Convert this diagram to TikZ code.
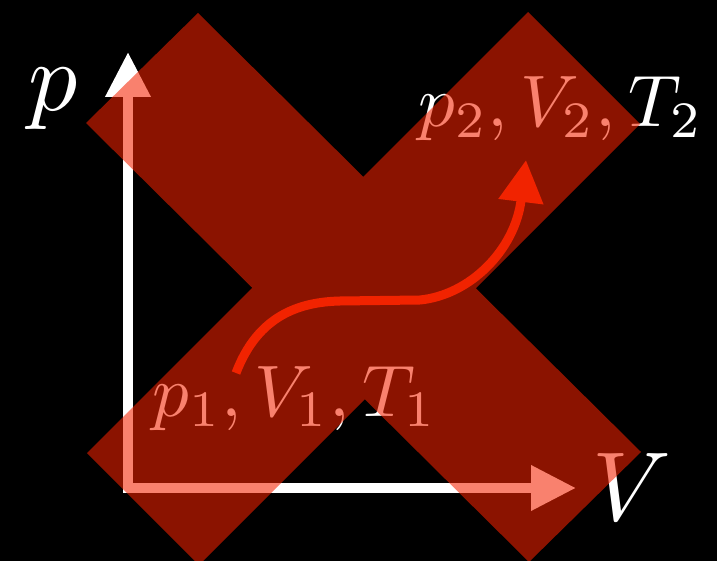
\documentclass[tikz,border=0pt]{standalone}
\usepackage{amsmath}
\usepackage{xcolor}
\definecolor{curvered}{RGB}{238,35,0}
\definecolor{crossred}{RGB}{245,35,0}
\usetikzlibrary{arrows.meta}

\begin{document}
\begin{tikzpicture}[x=1pt,y=1pt,
  axis/.style={white, line width=10pt, line join=miter},
  biglabel/.style={white, inner sep=0pt, anchor=base, scale=9.8},
  statelabel/.style={white, inner sep=0pt, anchor=base, scale=7.3}]
  % background
  \useasboundingbox (0,0) rectangle (717,560);
  \fill[black] (-10,-10) rectangle (727,570);
  % axes
  \coordinate (origin) at (128,72);
  \coordinate (ptip) at (128,508);
  \coordinate (Vtip) at (576,72);
  \draw[axis, {Triangle[length=45pt,width=43pt]}-{Triangle[length=45pt,width=43pt]}]
    (ptip) -- (origin) -- (Vtip);
  \node[biglabel] (plabel) at (53,449) {$p$};
  \node[biglabel] (Vlabel) at (632,40) {$V$};
  % states
  \node[statelabel] (state1) at (295,144) {$p_1, V_1, T_1$};
  \node[statelabel] (state2) at (561,433) {$p_2, V_2, T_2$};
  % process
  \coordinate (start) at (236,187);
  \coordinate (finish) at (526,400);
  \draw[curvered, line width=9pt, -{Triangle[length=42pt,width=43pt]}]
    (start) .. controls (258,245) and (300,258) .. (340,259) -- (420,260)
    .. controls (470,265) and (515,310) .. (finish);
  % cross
  \fill[crossred, opacity=0.57] (86,437) -- (198,547) -- (641,108) -- (529,-2) -- cycle
    (87,107) -- (528,548) -- (640,436) -- (199,-5) -- cycle;
\end{tikzpicture}
\end{document}
